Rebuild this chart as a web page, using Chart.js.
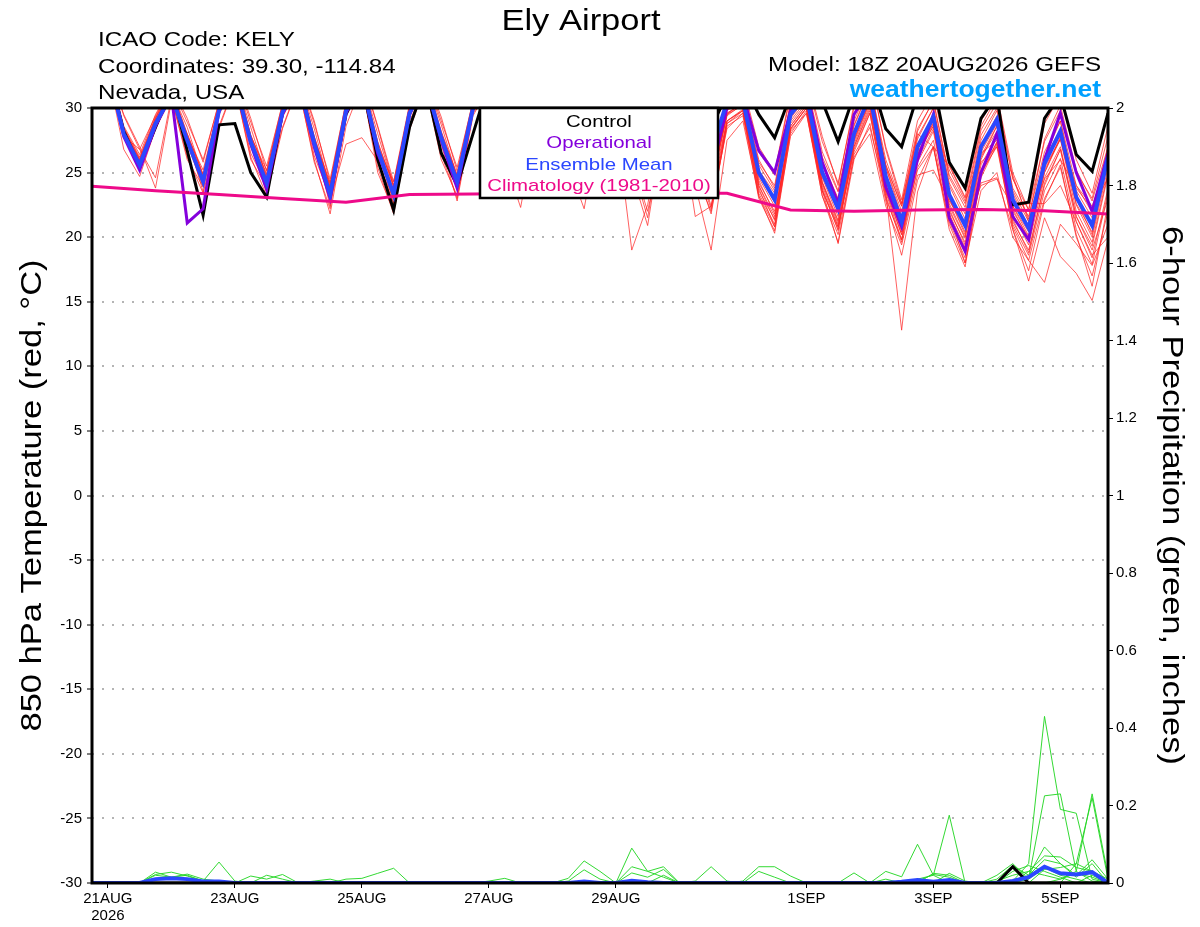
<!DOCTYPE html>
<html>
<head>
<meta charset="utf-8">
<title>Ely Airport</title>
<script src="https://cdn.jsdelivr.net/npm/chart.js@4.4.1/dist/chart.umd.min.js"></script>
<style>
  html, body { margin: 0; padding: 0; background: #fff; }
  canvas { display: block; }
</style>
</head>
<body>
<canvas id="meteogram" width="1200" height="927"></canvas>
<script>
// GEFS 18Z 20AUG2026 run, one value every 6 h from 20AUG 18Z to 5SEP 18Z
const stepHours = 6;
const tickHours = [6, 54, 102, 150, 198, 270, 318, 366];
const tickLabels = ['21AUG', '23AUG', '25AUG', '27AUG', '29AUG', '1SEP', '3SEP', '5SEP'];
const yearLabel = '2026';

// 850 hPa temperature (C)
const tempMean = [31,33,28.0,25.6, 28.8,31,27.5,24.3, 29.8,32,27.4,24.2, 29.7,32,27.3,23.3, 29.8,32,26.8,23.3, 29.6,32,27.7,24.3, 30.0,32,27.8,25.0, 29.8,32,27.6,25.0, 29.6,32,27.2,24.6, 29.4,31.8,27.0,26.5, 30.5,30.6,25.0,22.9, 29.5,31,25.0,22.2, 28.0,31,24.7,21.2, 27.0,29.3,23.3,20.9, 27.0,29.1,22.9,20.7, 25.7,28.2,23.1,20.9, 26.2];
const tempControl = [31,33,28.2,25.5, 28.5,31.5,26.7,21.7, 28.7,28.8,25.0,23.1, 29.6,32,27.3,23.2, 29.5,32,26.0,22.1, 28.5,32,26.5,24.0, 28.0,32,28,25.5, 30,32,28,25.5, 30,32.5,28,25.5, 30.5,33,29.5,28.5, 31,32,29.5,27.7, 31,32,30.5,27.4, 31,32.5,28.4,27.0, 31,32,25.8,23.8, 29.2,31,22.5,22.7, 29.2,31,26.4,25.1, 29.6];
const tempOper = [31,33,27.8,25.2, 28.6,31,21.1,22.2, 29.8,32,27.2,23.7, 29.5,32,27.0,23.0, 29.6,32,26.5,23.4, 29.5,32,27.5,23.8, 30,32,28,25.2, 30,32,27.8,25.2, 29.8,32,27.5,25, 29.6,32,27.5,25, 30,31,26.7,25.0, 29.8,31.5,25.8,22.6, 29.5,31.5,23.9,20.8, 26.0,29.5,21.5,18.9, 25.0,28.0,21.6,19.8, 26.0,29.6,25.0,22.0, 26.5];
// daily climatology 1981-2010, 20AUG 18Z .. 5SEP 18Z
const climDaily = [23.95, 23.6, 23.3, 23.0, 22.7, 23.3, 23.35, 23.4, 23.4, 23.4, 23.4, 22.1, 22.0, 22.1, 22.15, 22.05, 21.8];

const tempMembers = [
  [31,33,29.5,27.0, 23.8,30.5,28.0,24.8, 30.2,32.5,27.9,24.9, 30.1,32.4,27.8,23.9, 30.2,32.3,27.4,23.9, 30.0,32.3,28.1,24.8, 30.4,32.5,28.3,25.4, 30.3,32.4,28.0,25.5, 30.1,32.5,27.6,25.0, 29.8,32.3,27.5,25.0, 30.3,31.2,26.0,23.8, 30.4,31.8,26.2,23.5, 29.0,31.8,26.0,22.6, 28.4,30.5,24.6,22.3, 28.3,30.4,24.5,22.1, 27.4,29.8,25.0,23.0, 27.8],
  [31.5,33,28.4,26.1, 29.2,31.5,27.9,24.6, 30.1,32.3,27.0,23.8, 29.3,31.6,26.8,22.8, 27.2,27.7,25.9,22.6, 29.0,31.5,27.2,22.8, 29.4,31.6,27.2,24.4, 29.2,31.4,27.0,24.3, 29.0,31.5,26.6,23.8, 28.8,31.2,26.2,23.6, 29.0,29.8,24.0,21.6, 28.3,30.0,23.6,20.8, 26.8,29.6,23.2,19.6, 25.4,27.5,21.6,19.0, 25.2,27.3,21.0,18.6, 23.6,26.1,20.6,17.9, 23.5],
  [30.8,32.8,26.8,24.7, 28.4,30.8,26.2,23.4, 28.4,31.8,26.2,23.2, 28.4,31.7,26.0,21.8, 28.6,31.8,25.4,21.8, 28.3,31.8,26.4,23.0, 29.6,31.2,26.0,22.3, 29.0,31.5,27.0,24.3, 29.2,31.6,26.7,23.9, 29.0,31.5,26.4,23.8, 29.5,30.2,24.2,22.0, 29.0,30.6,24.3,21.3, 27.5,30.6,24.0,20.6, 26.4,28.8,22.6,20.0, 26.3,28.6,22.2,19.8, 25.0,27.8,22.5,20.0, 25.4],
  [31.2,33.2,28.3,26.0, 29.0,31.3,27.6,24.5, 30.0,32.2,27.7,24.6, 29.9,32.2,27.6,23.7, 30.0,32.2,27.1,23.7, 29.8,32.2,27.9,24.6, 30.1,32.2,28.0,25.2, 29.5,31.0,25.6,22.2, 29.0,31.8,27.0,24.4, 29.2,31.6,26.8,24.2, 29.6,30.4,25.2,23.4, 29.8,31.3,25.6,22.9, 28.6,31.5,25.6,22.4, 27.8,30.0,24.2,21.8, 27.9,30.0,23.8,21.6, 26.6,29.0,24.0,21.9, 27.0],
  [30.6,32.6,27.8,25.4, 28.6,30.9,27.3,24.0, 29.6,31.8,26.5,24.0, 29.5,31.9,26.3,23.1, 29.6,31.9,25.8,23.0, 29.4,31.8,27.5,24.0, 29.8,31.8,27.6,24.8, 29.6,31.8,27.4,24.7, 28.5,29.0,19.0,22.5, 29.0,31.4,26.6,24.0, 29.4,30.3,24.6,22.4, 29.2,30.8,24.6,21.6, 27.6,30.5,24.1,20.4, 26.4,28.6,22.4,19.9, 26.2,28.2,21.8,19.4, 24.6,27.0,21.6,19.3, 24.8],
  [31.0,33.0,28.1,25.8, 29.0,31.2,27.7,23.5, 30.0,32.2,27.6,23.4, 29.8,32.1,27.5,22.4, 29.9,32.1,27.0,22.6, 29.7,32.1,27.9,24.5, 30.0,32.0,27.9,25.1, 29.9,32.0,27.7,25.2, 29.3,31.2,25.0,20.9, 28.6,31.0,25.8,22.2, 29.0,29.8,23.4,21.0, 28.6,30.2,23.8,20.5, 27.0,30.0,23.5,19.8, 25.8,28.2,21.8,19.2, 25.6,27.8,21.4,18.8, 24.2,26.8,21.2,18.4, 23.8],
  [31.3,33.3,28.5,26.2, 29.3,31.5,28.0,24.9, 30.3,32.5,27.9,24.8, 30.1,32.4,27.8,24.0, 30.2,32.4,27.3,24.0, 30.0,32.4,28.2,24.8, 30.3,32.3,28.1,25.4, 30.1,32.3,27.9,25.4, 29.6,31.5,25.8,21.5, 28.8,30.8,25.0,22.0, 28.6,29.4,23.0,20.5, 28.4,30.0,23.6,20.6, 27.4,30.4,24.3,21.0, 26.8,29.1,23.0,20.4, 26.6,28.8,22.4,20.1, 25.2,27.6,22.6,20.4, 25.8],
  [30.9,32.9,27.9,25.5, 28.7,31.0,27.4,24.2, 29.7,31.9,27.3,24.1, 29.6,31.9,27.2,23.2, 29.7,31.9,26.7,23.2, 29.5,31.9,27.6,24.2, 29.9,31.9,27.7,24.9, 29.7,31.9,27.5,24.9, 29.4,31.6,26.0,22.0, 27.8,29.6,21.6,22.4, 28.4,29.6,23.6,21.4, 28.8,30.4,24.2,21.2, 27.2,30.2,23.8,20.2, 25.2,27.0,21.2,18.4, 25.0,27.0,20.8,18.2, 23.0,25.4,20.2,16.2, 22.6],
  [31.1,33.1,28.2,25.7, 28.9,31.1,27.5,24.4, 29.9,32.1,27.5,24.3, 29.8,32.1,27.4,23.4, 29.9,32.1,26.9,23.4, 29.7,32.1,27.8,24.4, 30.1,32.1,27.9,25.1, 29.9,32.1,27.7,25.1, 29.7,32.1,27.3,24.7, 29.2,30.5,24.0,19.0, 27.5,29.0,23.2,20.3, 28.0,29.8,23.2,19.6, 26.4,28.5,23.5,12.8, 23.5,27.0,21.0,18.0, 24.6,27.2,20.6,17.4, 22.8,25.6,20.0,17.0, 22.0],
  [31.4,33.4,29.4,26.8, 29.4,31.6,28.9,26.0, 30.4,32.6,28.9,25.5, 30.3,32.6,28.8,24.5, 30.4,32.6,28.5,24.0, 30.2,32.5,29.0,25.4, 30.5,32.5,28.3,25.6, 30.3,32.5,28.1,25.6, 30.1,32.5,27.8,25.2, 30.0,32.4,27.6,25.3, 30.6,31.5,26.6,24.8, 31.0,32.4,27.4,24.2, 30.0,32.6,27.0,22.9, 29.0,31.2,25.6,23.1, 29.0,31.0,25.0,22.1, 28.8,31.0,26.0,23.4, 28.6],
  [30.7,32.7,27.7,25.3, 28.5,30.8,27.2,23.9, 29.5,31.7,27.1,23.9, 29.4,31.8,27.0,22.9, 29.5,31.8,26.5,22.9, 29.3,31.7,27.4,23.9, 29.7,31.7,27.5,24.7, 29.5,31.7,27.3,24.6, 29.3,31.7,26.9,24.2, 29.1,31.3,26.4,22.4, 28.8,29.8,24.4,21.8, 28.2,29.6,23.2,20.2, 26.2,28.0,22.4,19.4, 24.8,25.2,22.8,20.8, 24.0,24.5,22.4,22.6, 22.6,24.0,21.2,18.6, 20.0],
  [31.2,33.2,28.3,25.9, 29.1,31.3,28.5,24.7, 30.1,32.3,28.5,24.6, 30.0,32.3,28.4,23.8, 30.1,32.3,28.0,23.9, 29.9,32.3,28.7,24.7, 30.2,32.2,28.0,25.3, 30.0,32.2,27.8,25.3, 29.8,32.2,27.4,24.9, 29.6,32.0,27.2,24.8, 30.0,30.8,25.6,23.6, 29.9,31.4,25.8,23.0, 28.7,31.6,25.4,22.0, 27.6,30.0,24.0,21.4, 27.5,29.8,23.6,21.2, 26.0,28.4,23.6,21.5, 26.6],
  [30.8,32.8,27.9,25.4, 28.7,30.9,27.4,24.1, 29.7,31.9,27.3,24.0, 29.6,31.9,27.1,23.0, 29.7,31.9,26.6,23.1, 29.5,31.9,27.5,24.1, 29.9,31.9,27.7,24.8, 29.7,31.9,27.4,24.8, 29.4,31.8,27.0,24.4, 29.2,31.6,26.6,24.1, 29.5,30.5,24.8,22.7, 29.3,30.9,24.8,22.0, 27.8,30.8,24.4,21.0, 26.6,28.6,22.0,19.6, 24.2,24.6,20.6,16.6, 21.5,18.5,17.2,15.1, 19.8],
  [31.0,33.0,28.0,25.6, 28.8,31.0,27.5,24.3, 29.8,32.0,27.4,24.2, 29.7,32.0,27.3,23.3, 29.8,32.0,26.8,23.3, 29.6,32.0,27.7,24.3, 30.0,32.0,27.8,25.0, 29.8,32.0,27.6,25.0, 29.6,32.0,27.2,24.6, 29.4,31.8,27.0,24.5, 29.8,30.6,25.0,22.9, 29.6,31.0,25.0,22.3, 28.2,31.0,24.8,21.6, 26.8,28.8,21.8,18.0, 23.6,25.0,20.0,18.2, 16.5,21.0,19.5,17.8, 21.0],
  [31.6,33.5,28.6,26.4, 29.5,31.7,29.2,25.8, 30.5,32.7,29.2,25.1, 30.4,32.7,29.0,24.2, 30.5,32.7,28.6,24.3, 30.3,32.6,29.3,25.1, 30.6,32.6,28.4,25.7, 30.4,32.6,28.2,25.7, 30.2,32.6,27.9,25.3, 30.1,32.5,27.7,25.4, 30.8,31.8,27.0,25.0, 31.2,32.6,27.8,24.0, 30.3,32.8,26.8,22.6, 28.0,27.0,25.5,23.0, 26.5,27.5,24.8,21.2, 24.5,26.0,23.8,22.2, 24.6],
  [30.9,32.9,28.0,25.5, 28.7,30.9,27.3,24.1, 29.6,31.9,27.2,24.0, 29.5,31.8,27.1,23.1, 29.6,31.8,26.6,23.1, 29.4,31.8,27.5,24.1, 29.8,31.8,27.6,24.8, 29.6,31.8,27.4,24.8, 29.5,31.8,27.0,24.4, 29.3,31.6,26.8,24.3, 29.6,30.3,24.0,21.3, 28.6,30.2,24.2,21.0, 27.0,29.8,23.6,20.2, 26.0,28.4,22.2,19.4, 26.0,28.6,22.0,20.0, 25.0,27.6,22.0,19.6, 25.0],
  [31.3,33.3,28.4,26.0, 29.2,31.4,27.8,25.2, 30.2,32.4,27.8,25.2, 30.0,32.3,27.6,24.2, 30.1,32.3,27.0,24.3, 29.9,32.3,27.9,24.6, 30.2,32.3,28.0,25.2, 30.0,32.3,27.8,25.2, 29.8,32.3,27.4,24.8, 28.6,30.6,25.4,21.8, 28.8,29.6,23.8,20.8, 28.4,30.0,24.0,20.8, 26.6,29.6,23.0,19.8, 26.4,29.0,23.0,20.2, 27.0,29.4,22.4,20.4, 26.2,29.0,23.0,20.2, 26.0],
  [30.7,32.7,27.8,26.8, 24.6,30.8,26.0,23.9, 28.6,31.8,26.0,23.9, 28.5,31.8,25.8,22.2, 29.5,31.8,25.0,22.0, 28.5,31.7,26.0,23.2, 29.7,31.7,27.4,24.6, 29.5,31.7,27.2,24.6, 29.2,31.6,26.6,23.4, 28.4,31.0,26.0,23.0, 29.0,29.9,23.2,20.8, 27.8,29.6,23.6,19.5, 26.0,28.8,22.8,18.6, 24.4,27.0,20.6,17.7, 24.8,27.4,21.2,19.0, 24.0,26.8,21.6,19.0, 23.0],
  [31.1,33.1,28.2,25.8, 29.0,31.2,27.7,24.5, 30.0,32.2,27.6,24.5, 29.9,32.2,27.5,23.5, 30.0,32.2,27.0,23.5, 29.8,32.2,27.9,24.5, 30.1,32.1,28.0,25.2, 29.9,32.1,27.8,25.2, 29.7,32.1,27.4,24.8, 29.5,31.9,27.1,24.6, 30.0,30.9,25.8,24.0, 30.4,32.0,26.6,23.6, 29.4,32.0,25.4,21.6, 28.2,30.6,24.8,22.6, 28.6,30.8,24.6,21.4, 27.6,30.2,25.2,22.8, 27.0],
  [30.9,32.9,27.9,25.5, 28.8,31.0,27.4,24.2, 29.8,32.0,27.3,24.1, 29.7,32.0,27.2,23.2, 29.8,32.0,26.7,23.2, 29.6,32.0,27.6,24.2, 30.0,32.0,27.7,24.9, 29.8,32.0,27.5,24.9, 29.6,32.0,27.1,24.5, 29.4,31.8,26.9,24.4, 29.9,30.7,25.0,22.9, 29.4,30.8,25.2,22.6, 28.0,30.6,25.6,22.4, 27.2,29.0,25.2,22.8, 25.8,27.0,23.4,20.8, 25.4,27.6,24.0,22.4, 26.0]
];

// 6-hour precipitation (inches)
const precipMean = [0,0,0,0, .01,.012,.01,.004, .004,0,0,0, 0,0,0,0, 0,0,0,0, 0,0,0,0, 0,0,0,0, 0,0,0,.004, 0,0,.006,.002, 0,0,0,0, 0,0,0,0, 0,0,0,0, 0,0,0,.003, .008,.003,.008,0, 0,0,.005,.015, .042,.025,.022,.028, 0];
const precipControl = [0,0,0,0, 0,0,0,0, 0,0,0,0, 0,0,0,0, 0,0,0,0, 0,0,0,0, 0,0,0,0, 0,0,0,0, 0,0,0,0, 0,0,0,0, 0,0,0,0, 0,0,0,0, 0,0,0,0, 0,0,0,0, 0,0,.042,0, 0,0,0,0, 0];
const precipMembers = [
  [0,0,0,0, .028,.015,.02,.005, .054,.005,0,0, 0,0,0,0, .01,.012,.025,.038, 0,0,0,0, 0,0,0,0, 0,0,.012,.057, .03,0,0,0, 0,0,0,0, 0,0,0,0, 0,0,0,0, 0,0,0,0, 0,.025,.02,0, 0,0,.03,.045, .03,.015,0,.02, 0],
  [0,0,0,0, .022,.028,.018,.005, 0,0,0,0, 0,0,0,0, 0,0,0,0, 0,0,0,0, 0,0,0,0, 0,0,.005,.034, .01,0,0,0, 0,0,0,0, 0,0,0,0, 0,0,0,0, 0,0,0,0, .005,.022,.015,0, 0,.02,.05,.01, .04,.02,.01,0, 0],
  [0,0,0,0, .02,.015,.023,.01, .005,0,0,0, 0,0,0,0, 0,0,0,0, 0,0,0,0, 0,0,0,0, 0,0,0,0, 0,0,.09,.03, .042,0,0,0, 0,0,0,0, 0,0,0,0, 0,0,0,0, .01,.02,0,0, 0,.01,.045,.02, .06,.05,.015,.05, 0],
  [0,0,0,0, 0,0,0,0, 0,0,.018,.01, .022,0,0,0, 0,0,0,0, 0,0,0,0, 0,0,0,0, 0,0,0,0, 0,0,.042,.03, .015,0,0,0, 0,0,0,0, 0,0,0,0, .026,0,.03,.016, .1,.02,.175,0, 0,0,0,0, 0,0,0,0, 0],
  [0,0,0,0, 0,0,0,0, 0,0,0,.02, .01,0,0,0, 0,0,0,0, 0,0,0,0, 0,.005,.012,0, 0,0,0,0, 0,0,.026,.015, .035,0,0,0, 0,0,0,0, 0,0,0,0, 0,0,0,0, 0,0,0,0, 0,0,0,0, .035,.04,.05,.03, .01],
  [0,0,0,0, 0,0,0,0, 0,0,0,0, 0,0,.005,.01, 0,0,0,0, 0,0,0,0, 0,0,0,0, 0,0,0,0, 0,0,0,0, 0,0,.005,.042, .005,0,0,0, 0,0,0,0, 0,0,0,0, 0,0,0,0, 0,.005,.02,.03, .02,.01,.025,.015, 0],
  [0,0,0,0, 0,0,0,0, 0,0,0,0, 0,0,0,0, 0,0,0,0, 0,0,0,0, 0,0,0,0, 0,0,0,0, 0,0,0,0, 0,0,0,0, 0,.005,.042,.042, .018,0,0,0, 0,0,0,0, 0,0,0,0, 0,0,0,.02, .093,.05,.02,.06, .01],
  [0,0,0,0, 0,0,0,0, 0,0,0,0, 0,0,0,0, 0,0,0,0, 0,0,0,0, 0,0,0,0, 0,0,0,0, 0,0,0,0, 0,0,0,0, 0,0,.03,.015, 0,0,0,0, 0,0,0,0, 0,0,.025,.005, 0,0,0,.03, .07,.067,.04,.03, 0],
  [0,0,0,0, 0,0,0,0, 0,0,0,0, 0,0,0,0, 0,0,0,0, 0,0,0,0, 0,0,0,0, 0,0,0,0, 0,0,0,0, 0,0,0,0, 0,0,0,0, 0,0,0,0, 0,0,0,0, 0,0,0,0, 0,0,.005,.05, .43,.19,.18,.01, 0],
  [0,0,0,0, 0,0,0,0, 0,0,0,0, 0,0,0,0, 0,0,0,0, 0,0,0,0, 0,0,0,0, 0,0,0,0, 0,0,0,0, 0,0,0,0, 0,0,0,0, 0,0,0,0, 0,0,0,0, 0,0,0,0, 0,0,0,.01, .225,.23,.03,.005, 0],
  [0,0,0,0, 0,0,0,0, 0,0,0,0, 0,0,0,0, 0,0,0,0, 0,0,0,0, 0,0,0,0, 0,0,0,0, 0,0,0,0, 0,0,0,0, 0,0,0,0, 0,0,0,0, 0,0,.01,0, .005,0,0,0, 0,0,0,0, 0,.01,.03,.23, .02],
  [0,0,0,0, 0,0,0,0, 0,0,0,0, 0,0,0,0, 0,0,0,0, 0,0,0,0, 0,0,0,0, 0,0,0,0, 0,0,0,0, .02,0,0,0, 0,0,0,0, 0,0,0,0, 0,0,0,0, 0,0,0,0, 0,0,0,0, 0,0,.05,.22, .01]
];

const FONT = "'Liberation Sans', Arial, Helvetica, sans-serif";
const colors = {
  control: '#000000',
  oper: '#8400dc',
  mean: '#2b47ff',
  clim: '#ee0a8a',
  member: 'rgba(255,35,35,0.72)',
  precip: 'rgba(40,215,40,0.95)',
  link: '#00a0ff'
};
const legendItems = [
  { text: 'Control', color: colors.control },
  { text: 'Operational', color: colors.oper },
  { text: 'Ensemble Mean', color: colors.mean },
  { text: 'Climatology (1981-2010)', color: colors.clim }
];

const hours = tempMean.map((_, i) => i * stepHours);
const pts = vals => vals.map((v, i) => ({ x: hours[i], y: v }));

function line(label, vals, color, width, order, axis) {
  return {
    label, data: pts(vals), borderColor: color, borderWidth: width, order,
    yAxisID: axis || 'y', pointRadius: 0, tension: 0, fill: false
  };
}

// text in the GrADS look is a little wider than Arial
function wideText(ctx, text, x, y, size, opts) {
  opts = opts || {};
  ctx.save();
  ctx.font = (opts.bold ? 'bold ' : '') + size + 'px ' + FONT;
  ctx.fillStyle = opts.color || '#000';
  ctx.textAlign = opts.align || 'left';
  ctx.textBaseline = 'alphabetic';
  ctx.translate(x, y);
  if (opts.rotate) ctx.rotate(opts.rotate);
  ctx.scale(opts.stretch || 1.15, 1);
  ctx.fillText(text, 0, 0);
  ctx.restore();
}

const overlay = {
  id: 'overlay',
  beforeDraw(chart) {
    const ctx = chart.ctx;
    ctx.save();
    ctx.fillStyle = '#fff';
    ctx.fillRect(0, 0, chart.width, chart.height);
    ctx.restore();
  },
  afterDatasetsDraw(chart) {
    const { ctx, chartArea: a } = chart;
    ctx.save();
    ctx.strokeStyle = '#000';
    ctx.lineWidth = 3;
    ctx.strokeRect(a.left, a.top, a.right - a.left, a.bottom - a.top);
    const bx = 480, by = a.top, bw = 238, bh = 90;
    ctx.fillStyle = '#fff';
    ctx.fillRect(bx, by, bw, bh);
    ctx.lineWidth = 2.5;
    ctx.strokeRect(bx, by, bw, bh);
    ctx.restore();
    legendItems.forEach((it, k) => {
      wideText(ctx, it.text, bx + bw / 2, by + 19 + k * 21.3, 17, { color: it.color, align: 'center', stretch: 1.2 });
    });
  },
  afterDraw(chart) {
    const { ctx, chartArea: a } = chart;
    const midY = (a.top + a.bottom) / 2;
    wideText(ctx, 'Ely Airport', 581, 30, 30, { align: 'center' });
    wideText(ctx, 'ICAO Code: KELY', 98, 46, 21);
    wideText(ctx, 'Coordinates: 39.30, -114.84', 98, 72.5, 21);
    wideText(ctx, 'Nevada, USA', 98, 99, 21);
    wideText(ctx, 'Model: 18Z 20AUG2026 GEFS', 1101, 71, 21, { align: 'right' });
    wideText(ctx, 'weathertogether.net', 1101, 96.5, 23, { align: 'right', bold: true, color: colors.link });
    wideText(ctx, '850 hPa Temperature (red, \u00B0C)', 41, midY, 30, { align: 'center', rotate: -Math.PI / 2 });
    wideText(ctx, '6-hour Precipitation (green, inches)', 1163, midY, 30, { align: 'center', rotate: Math.PI / 2 });
  }
};

const datasets = [
  { label: 'Climatology', data: climDaily.map((v, d) => ({ x: d * 24, y: v })), borderColor: colors.clim, borderWidth: 3, order: 0, yAxisID: 'y', pointRadius: 0, tension: 0, fill: false },
  line('Ensemble Mean', tempMean, colors.mean, 4, 1),
  line('Operational', tempOper, colors.oper, 3, 2),
  line('Control', tempControl, colors.control, 3, 3),
  line('Precip Mean', precipMean, colors.mean, 4, 4, 'y1'),
  line('Precip Control', precipControl, colors.control, 3, 5, 'y1')
];
tempMembers.forEach((m, k) => datasets.push(line('Member ' + (k + 1), m, colors.member, 1, 10)));
precipMembers.forEach((m, k) => datasets.push(line('Precip member ' + (k + 1), m, colors.precip, 1, 11, 'y1')));

const tickFont = { family: FONT, size: 15, lineHeight: 1.1 };

new Chart(document.getElementById('meteogram').getContext('2d'), {
  type: 'line',
  data: { datasets },
  plugins: [overlay],
  options: {
    responsive: false,
    animation: false,
    devicePixelRatio: 1,
    layout: { padding: { top: 108, left: 0, right: 0, bottom: 0 } },
    plugins: { legend: { display: false }, tooltip: { enabled: false }, title: { display: false } },
    scales: {
      x: {
        type: 'linear', min: 0, max: hours[hours.length - 1],
        afterBuildTicks: s => { s.ticks = tickHours.map(v => ({ value: v })); },
        afterFit: s => { s.height = 44; },
        ticks: {
          autoSkip: false, maxRotation: 0, padding: 3, color: '#000', font: tickFont,
          callback: v => {
            const k = tickHours.indexOf(v);
            return k === 0 ? [tickLabels[0], yearLabel] : tickLabels[k];
          }
        },
        grid: { drawOnChartArea: false, tickLength: 5, tickColor: '#000', tickWidth: 1 },
        border: { display: false }
      },
      y: {
        position: 'left', min: -30, max: 30,
        afterFit: s => { s.width = 92; },
        ticks: { stepSize: 5, padding: 5, color: '#000', font: tickFont, callback: v => String(v) },
        grid: { color: '#b4b4b4', lineWidth: 2, tickLength: 5, tickColor: '#000', tickWidth: 1 },
        border: { display: false, dash: [2, 8] }
      },
      y1: {
        position: 'right', min: 0, max: 2,
        afterFit: s => { s.width = 92; },
        ticks: { stepSize: 0.2, padding: 3, color: '#000', font: tickFont, callback: v => String(Math.round(v * 10) / 10) },
        grid: { drawOnChartArea: false, tickLength: 5, tickColor: '#000', tickWidth: 1 },
        border: { display: false }
      }
    }
  }
});
</script>
</body>
</html>
